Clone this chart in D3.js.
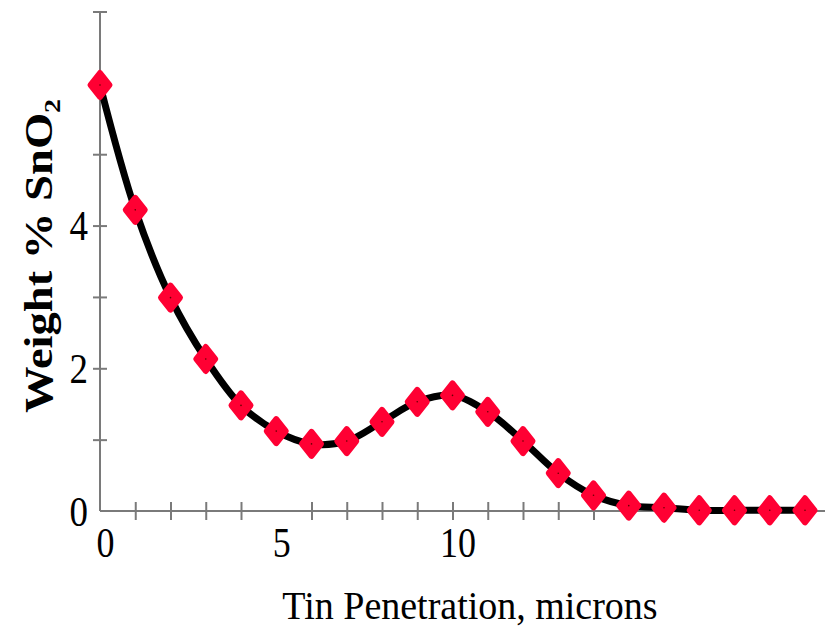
<!DOCTYPE html>
<html><head><meta charset="utf-8">
<script src="https://cdn.jsdelivr.net/npm/d3@7"></script>
<style>body{margin:0;background:#fff} svg{display:block}</style>
</head><body><svg id="c" width="825" height="629"></svg>
<script>
const penetration = [0,1,2,3,4,5,6,7,8,9,10,11,12,13,14,15,16,17,18,19,20];
const weightSnO2 = [5.97,4.22,2.99,2.13,1.48,1.12,0.94,0.98,1.25,1.53,1.62,1.39,0.98,0.53,0.22,0.075,0.046,0.01,0.01,0.01,0.01];
const xTickLabels = [0,5,10];
const xMinorTicks = [1,2,3,4,6,7,8,9,10,11,12,13,14,15,16,17,18,19,20];
const yTickLabels = [0,2,4];
const yMinorTicks = [1,2,3,4,5,6,7];
const xTitle = "Tin Penetration, microns";

const svg = d3.select("#c");
const x = d3.scaleLinear().domain([0,20]).range([100,805]);
const y = d3.scaleLinear().domain([0,7]).range([511,11.5]);
const serif = "'Liberation Serif','Times New Roman',serif";
const axisCol = "#7a7a7a";

// axis lines
svg.append("line").attr("x1",x(0)).attr("x2",825).attr("y1",y(0)).attr("y2",y(0))
  .attr("stroke",axisCol).attr("stroke-width",2);
svg.append("line").attr("x1",x(0)).attr("x2",x(0)).attr("y1",y(0)).attr("y2",y(7))
  .attr("stroke",axisCol).attr("stroke-width",2);

// x ticks (crossing)
const gxt = svg.append("g").attr("transform",`translate(0,${y(0)-9})`)
  .call(d3.axisBottom(x).tickValues(xMinorTicks).tickSize(18).tickFormat(""));
gxt.select(".domain").remove();
gxt.selectAll(".tick line").attr("stroke",axisCol).attr("stroke-width",2);

// y ticks (crossing)
const gyt = svg.append("g").attr("transform",`translate(${x(0)+7},0)`)
  .call(d3.axisLeft(y).tickValues(yMinorTicks).tickSize(14).tickFormat(""));
gyt.select(".domain").remove();
gyt.selectAll(".tick line").attr("stroke",axisCol).attr("stroke-width",2);

// x tick labels
const gxl = svg.append("g").attr("transform",`translate(5,${y(0)})`)
  .call(d3.axisBottom(x).tickValues(xTickLabels).tickSize(0).tickFormat(d3.format("d")));
gxl.select(".domain").remove();
gxl.selectAll("text").attr("font-family",serif).attr("font-size",36).attr("fill","#000")
  .attr("y",0).attr("dy",0).attr("transform","translate(0,46) scale(1,1.17)");

// y tick labels
const gyl = svg.append("g").attr("transform",`translate(${x(0)-12},0)`)
  .call(d3.axisLeft(y).tickValues(yTickLabels).tickSize(0).tickPadding(0).tickFormat(d3.format("d")));
gyl.select(".domain").remove();
gyl.selectAll("text").attr("font-family",serif).attr("font-size",37).attr("fill","#000")
  .attr("x",0).attr("dy",0).attr("transform","translate(0,14) scale(1,1.15)");

// line
const data = penetration.map((p,i)=>({p, w: weightSnO2[i]}));
svg.append("path").datum(data)
  .attr("d", d3.line().x(d=>x(d.p)).y(d=>y(d.w)).curve(d3.curveCatmullRom.alpha(0.5)))
  .attr("fill","none").attr("stroke","#000").attr("stroke-width",7);

// markers
const mk = svg.append("g").selectAll("g").data(data).join("g")
  .attr("transform", d=>`translate(${x(d.p)},${y(d.w)})`);
mk.append("path").attr("d","M0,-12L9.5,0L0,12L-9.5,0Z")
  .attr("fill","#ff0033").attr("stroke","#ff0033").attr("stroke-width",6).attr("stroke-linejoin","round");
mk.append("circle").attr("r",0.8).attr("fill","#600");

// axis titles
svg.append("text").attr("transform","translate(470,619) scale(1,1.06)").attr("text-anchor","middle")
  .attr("font-family",serif).attr("font-size",38).attr("fill","#000").text(xTitle);

const yt = svg.append("text").attr("transform","translate(52,256) rotate(-90) scale(1.165,1)")
  .attr("text-anchor","middle").attr("font-family",serif).attr("font-size",40)
  .attr("font-weight","bold").attr("fill","#000");
yt.append("tspan").text("Weight % SnO");
yt.append("tspan").attr("font-size",24).attr("dy",8).text("2");
</script></body></html>
